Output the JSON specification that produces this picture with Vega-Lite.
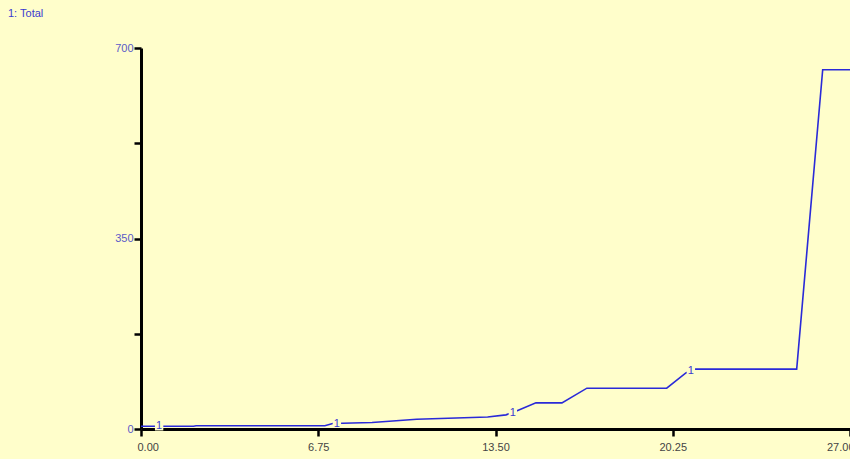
{
  "$schema": "https://vega.github.io/schema/vega-lite/v6.json",
  "autosize": "none",
  "width": 709,
  "height": 381,
  "padding": {"left": 141, "top": 48, "right": 0, "bottom": 30},
  "background": "#fffecb",
  "title": {"text": "1: Total", "anchor": "start", "frame": "group", "dx": -133, "offset": 23, "fontSize": 11, "color": "#3a3ad0", "fontWeight": "normal", "font": "Liberation Sans"},
  "config": {"view": {"stroke": null}, "font": "Liberation Sans"},
  "datasets": {
    "series": [
      {"t": 0, "v": 5},
      {"t": 2.0, "v": 5},
      {"t": 2.1, "v": 6},
      {"t": 7.0, "v": 6},
      {"t": 7.3, "v": 10},
      {"t": 8.8, "v": 12},
      {"t": 10.5, "v": 18},
      {"t": 13.2, "v": 22},
      {"t": 13.9, "v": 26},
      {"t": 14.3, "v": 33},
      {"t": 15.04, "v": 48},
      {"t": 16.03, "v": 48},
      {"t": 16.98, "v": 75},
      {"t": 20.02, "v": 75},
      {"t": 20.75, "v": 103},
      {"t": 21.09, "v": 110},
      {"t": 24.97, "v": 110},
      {"t": 25.96, "v": 660},
      {"t": 27, "v": 660}
    ],
    "labels": [
      {"t": 0.69, "v": 5, "label": "1"},
      {"t": 7.46, "v": 10, "label": "1"},
      {"t": 14.16, "v": 30, "label": "1"},
      {"t": 20.94, "v": 107, "label": "1"}
    ]
  },
  "layer": [
    {
      "data": {"name": "series"},
      "mark": {"type": "line", "color": "#2a2ad8", "strokeWidth": 1.6, "clip": true},
      "encoding": {
        "x": {"field": "t", "type": "quantitative", "scale": {"domain": [0, 27], "nice": false, "zero": false},
          "axis": {"title": null, "values": [0, 6.75, 13.5, 20.25, 27], "format": ".2f", "grid": false,
            "domainColor": "#000000", "domainWidth": 3, "tickColor": "#000000", "tickWidth": 2.5, "tickSize": 7,
            "labelColor": "#444444", "labelFontSize": 11, "labelPadding": 5, "labelFlush": true, "labelFlushOffset": 4, "labelBound": false, "labelOverlap": false}},
        "y": {"field": "v", "type": "quantitative", "scale": {"domain": [0, 700], "nice": false},
          "axis": {"title": null, "values": [0, 175, 350, 525, 700], "labelExpr": "datum.value % 350 == 0 ? datum.label : ''", "grid": false,
            "domainColor": "#000000", "domainWidth": 3, "tickColor": "#000000", "tickWidth": 2.5, "tickSize": 7,
            "labelColor": "#5a5ac8", "labelFontSize": 11, "labelPadding": 1}}
      }
    },
    {
      "data": {"name": "labels"},
      "mark": {"type": "point", "shape": "square", "filled": true, "color": "#fffecb", "size": 70, "opacity": 1},
      "encoding": {
        "x": {"field": "t", "type": "quantitative"},
        "y": {"field": "v", "type": "quantitative"}
      }
    },
    {
      "data": {"name": "labels"},
      "mark": {"type": "text", "color": "#3a3ad0", "fontSize": 11, "align": "center", "baseline": "middle"},
      "encoding": {
        "x": {"field": "t", "type": "quantitative"},
        "y": {"field": "v", "type": "quantitative"},
        "text": {"field": "label"}
      }
    }
  ]
}
